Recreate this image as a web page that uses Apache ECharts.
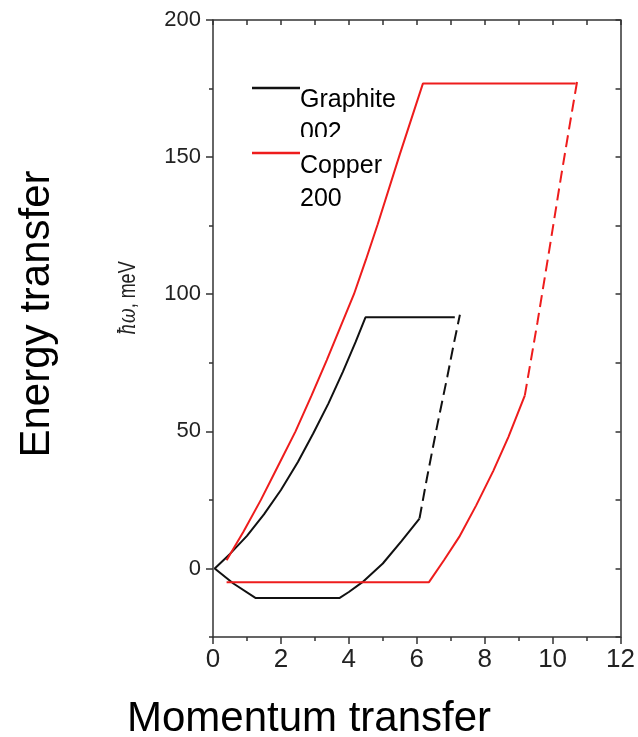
<!DOCTYPE html>
<html>
<head>
<meta charset="utf-8">
<script src="https://cdn.jsdelivr.net/npm/echarts@6/dist/echarts.min.js"></script>
<style>
  html, body { margin: 0; padding: 0; background: #fff; }
  #chart { width: 638px; height: 737px; }
</style>
</head>
<body>
<div id="chart"></div>
<script>
// momentum transfer (x) vs energy transfer (y)
const graphiteSolid = [
  [7.12, 91.6], [4.49, 91.6], [4.2, 82.6], [3.82, 71.6], [3.4, 60.2], [2.95, 49.2],
  [2.5, 38.8], [2.0, 28.6], [1.5, 19.7], [1.0, 11.9], [0.5, 5.3], [0.05, 0],
  [0.6, -5.5], [1.26, -10.8], [3.72, -10.8], [4.0, -8.6], [4.4, -5],
  [5.0, 1.8], [5.55, 10], [6.08, 18.2]
]
const graphiteDashed = [
  [6.08, 18.2], [6.3, 33], [6.6, 52], [6.9, 70], [7.1, 82.5], [7.27, 92.5]
]
const copperUpper = [
  [10.68, 176.8], [6.18, 176.8], [5.5, 151], [4.85, 125.5], [4.5, 112.5],
  [4.15, 100], [3.75, 88], [3.35, 76], [2.9, 63], [2.43, 50], [1.9, 37],
  [1.41, 25], [0.9, 13.5], [0.4, 3]
]
const copperLower = [
  [0.4, -5], [6.36, -5], [6.8, 3], [7.25, 11.5], [7.75, 23], [8.25, 35.5],
  [8.7, 48], [9.18, 63]
]
const copperDashed = [
  [9.18, 63], [9.55, 89.5], [9.9, 116], [10.25, 143], [10.5, 161.5], [10.72, 177.5]
]
const yLabels = [0, 50, 100, 150, 200]
const yMinor = [-25, 25, 75, 125, 175]

const BLACK = '#111111'
const RED = '#ee1c1c'
const AXIS = '#333333'
const FONT = '"Liberation Sans", Arial, sans-serif'

const chart = echarts.init(document.getElementById('chart'))

function line(data, color, dashed) {
  return {
    type: 'line',
    data: data,
    showSymbol: false,
    silent: true,
    animation: false,
    lineStyle: { color: color, width: 2, type: dashed ? [12, 6] : 'solid' }
  }
}

chart.setOption({
  backgroundColor: '#fff',
  grid: { left: 213, right: 11, top: 20, bottom: 100 },
  xAxis: [
    {
      type: 'value', position: 'bottom', min: 0, max: 12, interval: 2,
      axisLine: { onZero: false, lineStyle: { color: AXIS, width: 1.5 } },
      axisTick: { length: 7, lineStyle: { color: AXIS, width: 1.5 } },
      minorTick: { show: true, splitNumber: 2, length: 4, lineStyle: { color: AXIS, width: 1.5 } },
      axisLabel: { color: '#222', fontSize: 26, fontFamily: FONT, margin: 10 },
      splitLine: { show: false }
    },
    {
      type: 'value', position: 'top', min: 0, max: 12, interval: 1,
      axisLine: { onZero: false, lineStyle: { color: AXIS, width: 1.5 } },
      axisTick: { inside: true, length: 5, lineStyle: { color: AXIS, width: 1.5 } },
      axisLabel: { show: false },
      splitLine: { show: false }
    }
  ],
  yAxis: [
    {
      type: 'value', position: 'left', min: -25, max: 200, interval: 25,
      axisLine: { show: true, onZero: false, lineStyle: { color: AXIS, width: 1.5 } },
      axisTick: { show: true, customValues: yLabels, length: 7, lineStyle: { color: AXIS, width: 1.5 } },
      axisLabel: { customValues: yLabels, color: '#222', fontSize: 22, fontFamily: FONT, margin: 12 },
      splitLine: { show: false }
    },
    {
      type: 'value', position: 'right', min: -25, max: 200, interval: 25,
      axisLine: { show: true, onZero: false, lineStyle: { color: AXIS, width: 1.5 } },
      axisTick: { show: true, inside: true, length: 5, lineStyle: { color: AXIS, width: 1.5 } },
      axisLabel: { show: false },
      splitLine: { show: false }
    },
    {
      // short minor ticks on the left axis
      type: 'value', position: 'left', min: -25, max: 200, interval: 25,
      axisLine: { show: false, onZero: false },
      axisTick: { show: true, customValues: yMinor, length: 4, lineStyle: { color: AXIS, width: 1.5 } },
      axisLabel: { show: false },
      splitLine: { show: false }
    }
  ],
  series: [
    line(graphiteSolid, BLACK, false),
    line(graphiteDashed, BLACK, true),
    line(copperUpper, RED, false),
    line(copperLower, RED, false),
    line(copperDashed, RED, true)
  ],
  graphic: [
    // legend
    { type: 'line', shape: { x1: 252, y1: 88, x2: 300, y2: 88 }, style: { stroke: BLACK, lineWidth: 2.5 } },
    { type: 'text', x: 300, y: 84, style: { text: 'Graphite\n002', font: '25px ' + FONT, fill: '#000', lineHeight: 33 } },
    { type: 'rect', shape: { x: 298, y: 137, width: 60, height: 12 }, style: { fill: '#fff' } },
    { type: 'line', shape: { x1: 252, y1: 153, x2: 300, y2: 153 }, style: { stroke: RED, lineWidth: 2.5 } },
    { type: 'text', x: 300, y: 150, style: { text: 'Copper\n200', font: '25px ' + FONT, fill: '#000', lineHeight: 33 } },
    // axis names
    {
      type: 'text', x: 37, y: 314, rotation: Math.PI / 2,
      style: { text: 'Energy transfer', font: '42px ' + FONT, fill: '#000', textAlign: 'center', textVerticalAlign: 'middle' }
    },
    {
      type: 'text', x: 129, y: 298, rotation: Math.PI / 2, scaleY: 1.3,
      style: {
        text: '{i|ħω}, meV', font: '18px ' + FONT, fill: '#222',
        textAlign: 'center', textVerticalAlign: 'middle',
        rich: { i: { fontStyle: 'italic', fontFamily: '"DejaVu Serif", serif', fontSize: 18, fill: '#222' } }
      }
    },
    {
      type: 'text', x: 309, y: 719,
      style: { text: 'Momentum transfer', font: '42px ' + FONT, fill: '#000', textAlign: 'center', textVerticalAlign: 'middle' }
    }
  ]
})
</script>
</body>
</html>
